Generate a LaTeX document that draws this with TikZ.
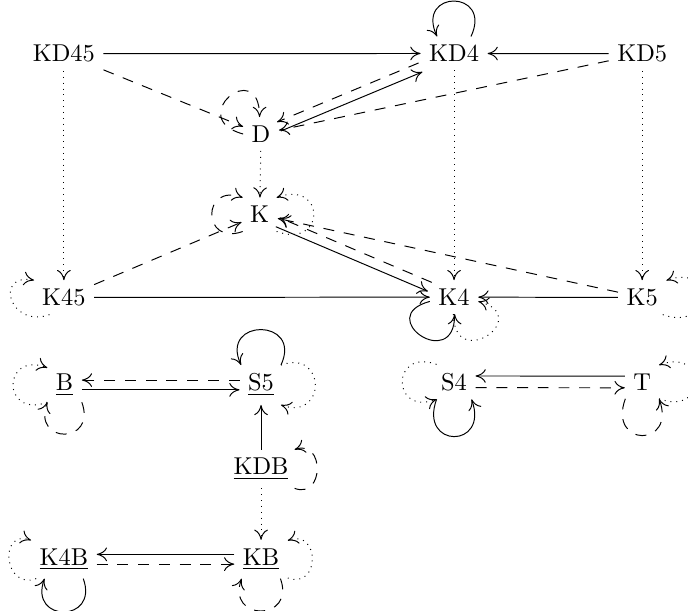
\documentclass[tikz,border=0pt]{standalone}
\usepackage{tikz}
\usetikzlibrary{arrows.meta}

\begin{document}
\begin{tikzpicture}[thin,
  >={Computer Modern Rightarrow[length=4.2pt,width=5.6pt]},
  every node/.style={anchor=base,inner sep=3.33pt},
  sure/.style={->},
  maybe/.style={->,dash pattern=on 4.5pt off 4pt},
  weak/.style={->,dotted}]
  \useasboundingbox (0,0) rectangle (9.91,-8.8);
  % upper part
  \node (KD45) at (0.92,-0.89) {KD45};
  \node (KD4) at (6.54,-0.89) {KD4};
  \node (KD5) at (9.25,-0.89) {KD5};
  \node (D) at (3.76,-2.05) {D};
  \node (K) at (3.74,-3.21) {K};
  \node (K45) at (0.92,-4.40) {K45};
  \node (K4) at (6.54,-4.40) {K4};
  \node (K5) at (9.25,-4.40) {K5};
  % lower part
  \node (B) at (0.93,-5.63) {\underline{B}};
  \node (S5) at (3.76,-5.63) {\underline{S5}};
  \node (S4) at (6.54,-5.62) {S4};
  \node (T) at (9.25,-5.62) {T};
  \node (KDB) at (3.76,-6.84) {\underline{KDB}};
  \node (K4B) at (0.92,-8.14) {\underline{K4B}};
  \node (KB) at (3.76,-8.14) {\underline{KB}};

  \draw[sure] (KD45) -- (KD4);
  \draw[sure] (KD5) -- (KD4);
  \draw[maybe] (KD45) -- (D);
  \draw[maybe] (KD5) -- (D);
  \draw[sure,transform canvas={shift={(0.78pt,-1.84pt)}}] (D) -- (KD4);
  \draw[maybe,transform canvas={shift={(-0.78pt,1.84pt)}}] (KD4) -- (D);
  \draw[weak] (KD45) -- (K45);
  \draw[weak] (D) -- (K);
  \draw[weak] (KD4) -- (K4);
  \draw[weak] (KD5) -- (K5);
  \draw[maybe] (K45) -- (K);
  \draw[maybe] (K5) -- (K);
  \draw[sure,transform canvas={shift={(-0.78pt,-1.84pt)}}] (K) -- (K4);
  \draw[maybe,transform canvas={shift={(0.78pt,1.84pt)}}] (K4) -- (K);
  \draw[sure] (K45) -- (K4);
  \draw[sure] (K5) -- (K4);
  \draw[sure] ([yshift=-2pt]B.east) -- ([yshift=-2pt]S5.west);
  \draw[maybe] ([yshift=2pt]S5.west) -- ([yshift=2pt]B.east);
  \draw[sure] ([yshift=2.4pt]T.west) -- ([yshift=2.4pt]S4.east);
  \draw[maybe] ([yshift=-2.4pt]S4.east) -- ([yshift=-2.4pt]T.west);
  \draw[sure] (KDB) -- (S5);
  \draw[weak] (KDB) -- (KB);
  \draw[sure] ([yshift=2pt]KB.west) -- ([yshift=2pt]K4B.east);
  \draw[maybe] ([yshift=-2pt]K4B.east) -- ([yshift=-2pt]KB.west);

  % loops
  \draw[sure] (KD4.45) to[out=65,in=115,distance=7.5mm] (KD4.135);
  \draw[maybe] (D.180) to[out=165,in=90,distance=8.8mm] (D.95);
  \draw[maybe] (K.225) to[out=200,in=160,distance=6.3mm] (K.135);
  \draw[weak] (K.315) to[out=-20,in=20,distance=7.6mm] (K.45);
  \draw[weak] (K45.230) to[out=200,in=170,distance=6mm] (K45.150);
  \draw[sure] (K4.190) to[out=195,in=270,distance=8.5mm] (K4.272);
  \draw[weak] (K4.268) to[out=270,in=-15,distance=8.5mm] (K4.350);
  \draw[weak] (K5.320) to[out=-20,in=20,distance=7.6mm] (K5.35);
  \draw[weak] (B.225) to[out=200,in=160,distance=7mm] (B.135);
  \draw[maybe] (B.315) to[out=-70,in=250,distance=6.5mm] (B.225);
  \draw[sure] (S5.45) to[out=65,in=115,distance=7.5mm] (S5.135);
  \draw[weak] (S5.45) to[out=20,in=-20,distance=7mm] (S5.315);
  \draw[maybe] (KDB.330) to[out=-20,in=20,distance=4.6mm] (KDB.30);
  \draw[weak] (S4.135) to[out=160,in=200,distance=7mm] (S4.225);
  \draw[sure] (S4.225) to[out=250,in=290,distance=7.6mm] (S4.315);
  \draw[weak] (T.315) to[out=-20,in=20,distance=7.5mm] (T.45);
  \draw[maybe] (T.225) to[out=250,in=290,distance=7.5mm] (T.315);
  \draw[weak] (K4B.215) to[out=200,in=160,distance=5mm] (K4B.150);
  \draw[sure] (K4B.315) to[out=-70,in=250,distance=6.8mm] (K4B.225);
  \draw[weak] (KB.325) to[out=-20,in=20,distance=5mm] (KB.35);
  \draw[maybe] (KB.315) to[out=-70,in=250,distance=6.6mm] (KB.225);
\end{tikzpicture}
\end{document}
